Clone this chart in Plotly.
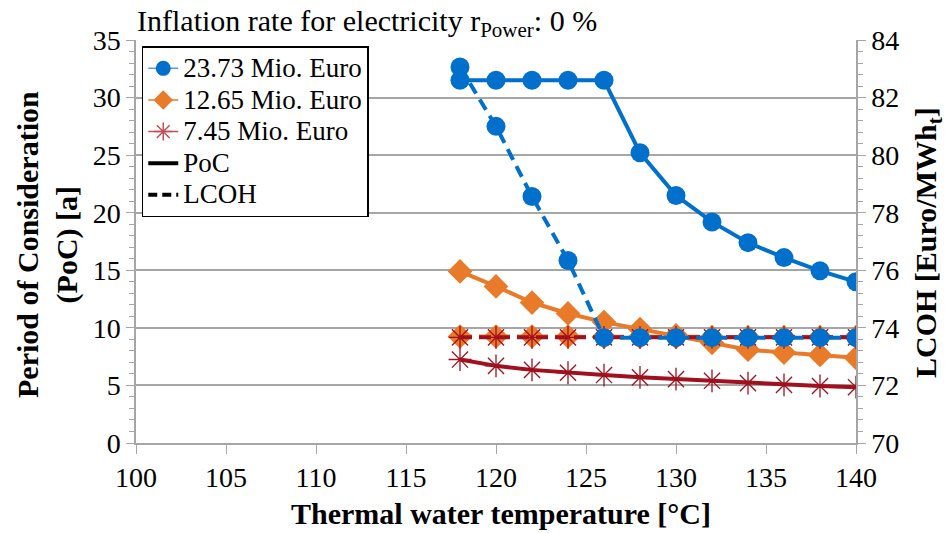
import plotly.graph_objects as go

temps = [118, 120, 122, 124, 126, 128, 130, 132, 134, 136, 138, 140]

poc_23 = [31.5, 31.5, 31.5, 31.5, 31.5, 25.2, 21.5, 19.2, 17.4, 16.1, 14.95, 14.0]
lcoh_23 = [83.06, 81.0, 78.56, 76.34, 73.66, 73.66, 73.66, 73.66, 73.66, 73.66, 73.66, 73.66]

poc_12 = [14.9, 13.6, 12.2, 11.25, 10.5, 9.9, 9.35, 8.7, 8.1, 7.85, 7.65, 7.4]
lcoh_12 = [73.7, 73.7, 73.7, 73.7, 73.69, 73.69, 73.68, 73.68, 73.68, 73.68, 73.68, 73.68]

poc_7 = [7.25, 6.7, 6.35, 6.1, 5.9, 5.7, 5.55, 5.4, 5.2, 5.05, 4.95, 4.85]
lcoh_7 = [73.67, 73.67, 73.67, 73.67, 73.67, 73.67, 73.67, 73.67, 73.67, 73.67, 73.67, 73.67]

series_names = ["23.73 Mio. Euro", "12.65 Mio. Euro", "7.45 Mio. Euro"]
x_ticks = [100, 105, 110, 115, 120, 125, 130, 135, 140]

BLUE = "#0070CC"
ORANGE = "#E87A2A"
RED = "#A0101E"
RED_M = "rgba(180,40,55,0.6)"
FONT = "Liberation Serif"
GRID = "#A6A6A6"
DASH = "12px,7px"


def leg(name):
    return '<span style="font-size:27px">' + name + '</span>'


fig = go.Figure()

# Orange
fig.add_trace(go.Scatter(x=temps, y=poc_12, mode="lines+markers", showlegend=False,
                         line=dict(color=ORANGE, width=4),
                         marker=dict(symbol="diamond", size=19, color=ORANGE)))
fig.add_trace(go.Scatter(x=temps, y=lcoh_12, yaxis="y2", mode="lines+markers", showlegend=False,
                         line=dict(color=ORANGE, width=4, dash=DASH),
                         marker=dict(symbol="diamond", size=19, color=ORANGE)))
# Red
fig.add_trace(go.Scatter(x=temps, y=poc_7, mode="lines+markers", showlegend=False,
                         line=dict(color=RED, width=4),
                         marker=dict(symbol="asterisk-open", size=19, line=dict(color=RED_M, width=1.3))))
fig.add_trace(go.Scatter(x=temps, y=lcoh_7, yaxis="y2", mode="lines+markers", showlegend=False,
                         line=dict(color=RED, width=4, dash=DASH),
                         marker=dict(symbol="asterisk-open", size=19, line=dict(color=RED_M, width=1.3))))
# Blue
fig.add_trace(go.Scatter(x=temps, y=poc_23, mode="lines+markers", showlegend=False,
                         line=dict(color=BLUE, width=4),
                         marker=dict(symbol="circle", size=19, color=BLUE)))
fig.add_trace(go.Scatter(x=temps, y=lcoh_23, yaxis="y2", mode="lines+markers", showlegend=False,
                         line=dict(color=BLUE, width=4, dash=DASH),
                         marker=dict(symbol="circle", size=19, color=BLUE)))

# Legend entries
fig.add_trace(go.Scatter(x=[None], y=[None], mode="lines+markers", name=leg(series_names[0]),
                         line=dict(color="#5AA0E0", width=1.5),
                         marker=dict(symbol="circle", size=15, color=BLUE)))
fig.add_trace(go.Scatter(x=[None], y=[None], mode="lines+markers", name=leg(series_names[1]),
                         line=dict(color=ORANGE, width=1.5),
                         marker=dict(symbol="diamond", size=15, color=ORANGE)))
fig.add_trace(go.Scatter(x=[None], y=[None], mode="lines+markers", name=leg(series_names[2]),
                         line=dict(color="#C0505A", width=1.5),
                         marker=dict(symbol="asterisk-open", size=15, line=dict(color=RED, width=1.5))))
fig.add_trace(go.Scatter(x=[None], y=[None], mode="lines", name=leg("PoC"),
                         line=dict(color="black", width=4)))
fig.add_trace(go.Scatter(x=[None], y=[None], mode="lines", name=leg("LCOH"),
                         line=dict(color="black", width=4, dash="9px,5px")))

fig.update_layout(
    width=951, height=533,
    margin=dict(l=136, r=95, t=40, b=90),
    paper_bgcolor="white", plot_bgcolor="white",
    font=dict(family=FONT, size=28, color="black"),
    xaxis=dict(range=[100, 140], tickvals=x_ticks, ticks="outside", ticklen=9,
               tickcolor=GRID, showline=True, linecolor=GRID, linewidth=1.5,
               showgrid=False, zeroline=False, automargin=False,
               tickfont=dict(size=28)),
    yaxis=dict(range=[0, 35], dtick=5, ticks="outside", ticklen=8, tickcolor=GRID,
               showline=True, linecolor=GRID, linewidth=1.5,
               showgrid=True, gridcolor=GRID, gridwidth=1.5, zeroline=False, automargin=False,
               tickfont=dict(size=28),
               minor=dict(dtick=1, ticks="outside", ticklen=5, tickcolor=GRID, showgrid=False)),
    yaxis2=dict(range=[70, 84], dtick=2, overlaying="y", side="right", ticks="outside",
                ticklen=8, tickcolor=GRID, showline=True, linecolor=GRID, linewidth=1.5,
                showgrid=False, zeroline=False, automargin=False,
                tickfont=dict(size=28),
                minor=dict(dtick=0.4, ticks="outside", ticklen=5, tickcolor=GRID)),
    legend=dict(x=0.008, y=0.985, xanchor="left", yanchor="top",
                bgcolor="white", bordercolor="black", borderwidth=1.5,
                font=dict(size=22), tracegroupgap=0, itemwidth=30),
    annotations=[
        dict(text="Inflation rate for electricity r<sub>Power</sub>: 0 %",
             xref="paper", yref="paper", x=0.0, xshift=-1, y=1.0, xanchor="left",
             yanchor="bottom", showarrow=False, font=dict(size=30), yshift=-4),
        dict(text="<b>Thermal water temperature [°C]</b>", xref="paper", yref="paper",
             x=(501 - 136) / 720, y=0, yshift=-70, xanchor="center", yanchor="middle",
             showarrow=False, font=dict(size=30)),
        dict(text="<b>Period of Consideration<br>(PoC) [a]</b>", xref="paper", yref="paper",
             x=0, y=(443 - 245) / 403, xshift=-89, xanchor="center", yanchor="middle",
             textangle=-90, showarrow=False, font=dict(size=30)),
        dict(text="<b>LCOH [Euro/MWh<sub>t</sub>]</b>", xref="paper", yref="paper",
             x=1, y=(443 - 243) / 403, xshift=72, xanchor="center", yanchor="middle",
             textangle=-90, showarrow=False, font=dict(size=30)),
    ],
    showlegend=True,
)

fig.write_html("out.html", post_script="document.body.style.margin='0';",
               config={"displayModeBar": False})
